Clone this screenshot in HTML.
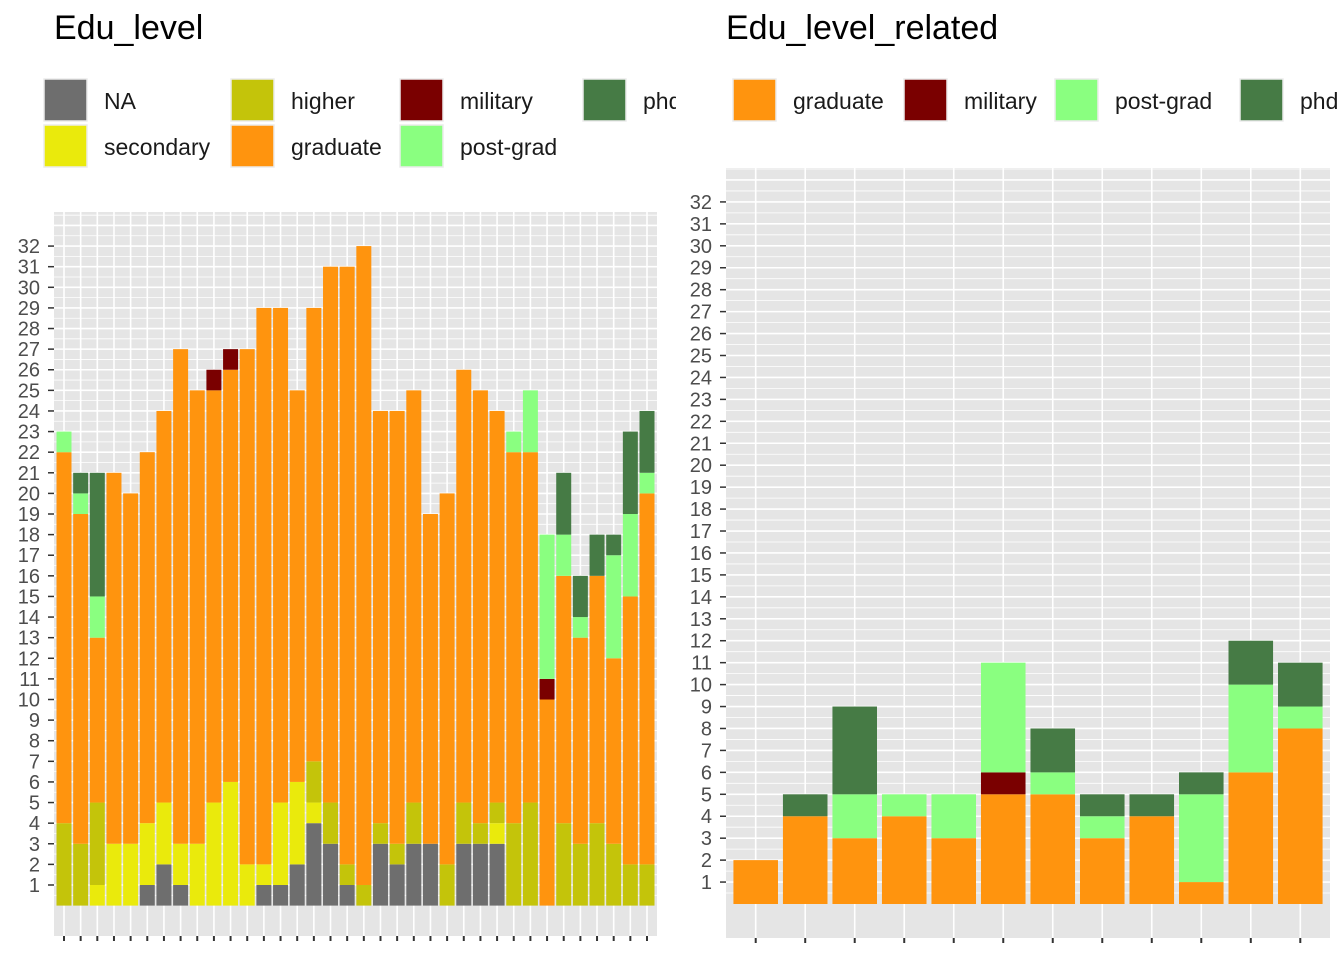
<!DOCTYPE html>
<html><head><meta charset="utf-8"><style>
body{margin:0;background:#fff;}
svg{display:block;font-family:"Liberation Sans",Arial,sans-serif;}
</style></head><body>
<svg id="chart" width="1344" height="960" viewBox="0 0 1344 960" xmlns="http://www.w3.org/2000/svg">
<defs><clipPath id="clipL"><rect x="0" y="0" width="676" height="960"/></clipPath></defs>
<g id="left"></g>
<g id="right"></g>
</svg>
<script>
const levels = ["NA","secondary","higher","graduate","military","post-grad","phd"];
const colors = {"NA":"#6e6e6e","secondary":"#eaea0c","higher":"#c4c40a","graduate":"#ff940e","military":"#7a0000","post-grad":"#8aff80","phd":"#467b45"};
// Left chart counts per bar (36 bars)
const leftNA        = [0,0,0,0,0,1,2,1,0,0,0,0,1,1,2,4,3,1,0,3,2,3,3,0,3,3,3,0,0,0,0,0,0,0,0,0];
const leftSecondary = [0,0,1,3,3,3,3,2,3,5,6,2,1,4,4,1,0,0,0,0,0,0,0,0,0,0,1,0,0,0,0,0,0,0,0,0];
const leftHigher    = [4,3,4,0,0,0,0,0,0,0,0,0,0,0,0,2,2,1,1,1,1,2,0,2,2,1,1,4,5,0,4,3,4,3,2,2];
const leftGraduate  = [18,16,8,18,17,18,19,24,22,20,20,25,27,24,19,22,26,29,31,20,21,20,16,18,21,21,19,18,17,10,12,10,12,9,13,18];
const leftMilitary  = [0,0,0,0,0,0,0,0,0,1,1,0,0,0,0,0,0,0,0,0,0,0,0,0,0,0,0,0,0,1,0,0,0,0,0,0];
const leftPostGrad  = [1,1,2,0,0,0,0,0,0,0,0,0,0,0,0,0,0,0,0,0,0,0,0,0,0,0,0,1,3,7,2,1,0,5,4,1];
const leftPhd       = [0,1,6,0,0,0,0,0,0,0,0,0,0,0,0,0,0,0,0,0,0,0,0,0,0,0,0,0,0,0,3,2,2,1,4,3];
// Right chart counts per bar (12 bars)
const rightGraduate = [2,4,3,4,3,5,5,3,4,1,6,8];
const rightMilitary = [0,0,0,0,0,1,0,0,0,0,0,0];
const rightPostGrad = [0,0,2,1,2,5,1,1,0,4,4,1];
const rightPhd      = [0,1,4,0,0,0,2,1,1,1,2,2];
const yTicks = [1,2,3,4,5,6,7,8,9,10,11,12,13,14,15,16,17,18,19,20,21,22,23,24,25,26,27,28,29,30,31,32];

const NS="http://www.w3.org/2000/svg";
function mk(parent,tag,attrs){const e=document.createElementNS(NS,tag);for(const k in attrs)e.setAttribute(k,attrs[k]);parent.appendChild(e);return e;}

function drawPanel(g,cfg){
  const {x0,x1,y0,y1,zeroY,unit,series,title,legend,nBars} = cfg;
  const yS=v=>zeroY-v*unit;
  const step=(x1-x0)/(nBars+0.2);
  const xS=i=>x0+step*(0.6+i);
  const t=mk(g,"text",{x:cfg.titleX,y:39,"font-size":"34",fill:"#000"});
  t.textContent=title;
  
  
  const lg=mk(g,"g",{"clip-path":cfg.clip||""});
  
  
  legend.forEach(L=>{
    const r=mk(lg,"rect",{x:L.x,y:L.y,width:43,height:42,fill:colors[L.name],stroke:"#ececec","stroke-width":"1.5"});
    
    
    const tx=mk(lg,"text",{x:L.x+60,y:L.y+30,"font-size":"23",fill:"#1a1a1a"});
    tx.textContent=L.name;
    
    
  });
  const bg=mk(g,"rect",{x:x0,y:y0,width:x1-x0,height:y1-y0,fill:"#e5e5e5"});
  
  
  const topV=(zeroY-y0)/unit;
  for(let v=0.5;v<topV;v+=0.5){
    const major=Number.isInteger(v);
    const ln=mk(g,"line",{x1:x0,x2:x1,y1:yS(v),y2:yS(v),stroke:"#fff","stroke-width":major?1.6:0.8});
    
    
  }
  for(let i=0;i<nBars;i++){
    const ln=mk(g,"line",{x1:xS(i),x2:xS(i),y1:y0,y2:y1,stroke:"#fff","stroke-width":1.6});
    
    
  }
  const bw=step*0.9;
  for(let i=0;i<nBars;i++){
    let acc=0;
    series.forEach(s=>{
      const v=s.vals[i]; if(!v) return;
      const r=mk(g,"rect",{x:xS(i)-bw/2,y:yS(acc+v),width:bw,height:v*unit,fill:colors[s.name]});
      
      
      acc+=v;
    });
    const tk=mk(g,"line",{x1:xS(i),x2:xS(i),y1:y1,y2:y1+5,stroke:"#333","stroke-width":2});
    
    
  }
  yTicks.forEach(v=>{
    const tk=mk(g,"line",{x1:x0-6,x2:x0,y1:yS(v),y2:yS(v),stroke:"#333","stroke-width":1.5});
    
    
    const tl=mk(g,"text",{x:x0-14,y:yS(v)+7,"font-size":"20","text-anchor":"end",fill:"#4d4d4d"});
    tl.textContent=v;
    
    
  });
}

drawPanel(document.getElementById('left'),{
  x0:54,x1:657,y0:212,y1:936,zeroY:905.6,unit:20.61,nBars:36,title:"Edu_level",titleX:54,clip:"url(#clipL)",
  series:[{name:"NA",vals:leftNA},{name:"secondary",vals:leftSecondary},{name:"higher",vals:leftHigher},{name:"graduate",vals:leftGraduate},{name:"military",vals:leftMilitary},{name:"post-grad",vals:leftPostGrad},{name:"phd",vals:leftPhd}],
  legend:[{name:"NA",x:44,y:79},{name:"secondary",x:44,y:125},{name:"higher",x:231,y:79},{name:"graduate",x:231,y:125},{name:"military",x:400,y:79},{name:"post-grad",x:400,y:125},{name:"phd",x:583,y:79}]
});
drawPanel(document.getElementById('right'),{
  x0:726,x1:1330,y0:168,y1:938,zeroY:904,unit:21.94,nBars:12,title:"Edu_level_related",titleX:726,
  series:[{name:"graduate",vals:rightGraduate},{name:"military",vals:rightMilitary},{name:"post-grad",vals:rightPostGrad},{name:"phd",vals:rightPhd}],
  legend:[{name:"graduate",x:733,y:79},{name:"military",x:904,y:79},{name:"post-grad",x:1055,y:79},{name:"phd",x:1240,y:79}]
});
</script>
</body></html>
